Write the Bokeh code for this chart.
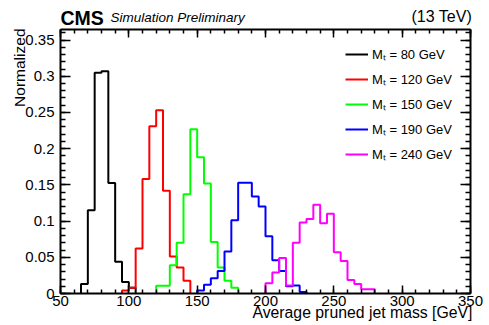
import numpy as np
from bokeh.plotting import figure
from bokeh.models import (Range1d, LinearAxis, FixedTicker, Label, Legend, LegendItem,
                          CustomLabelingPolicy)
from bokeh.embed import file_html
from bokeh.resources import INLINE

# ---- data (5 GeV bins) ----
bin_width = 5
series_names = ["M\u209c = 80 GeV", "M\u209c = 120 GeV", "M\u209c = 150 GeV",
                "M\u209c = 190 GeV", "M\u209c = 240 GeV"]
series_colors = ["#000000", "#ff0000", "#00ff00", "#0000ff", "#ff00ff"]
series_start = [65, 95, 120, 150, 200]

m80 = [0.013, 0.115, 0.305, 0.307, 0.1525, 0.044, 0.016, 0.008]
m120 = [0.004, 0.008, 0.062, 0.158, 0.231, 0.253, 0.142, 0.051, 0.036, 0.0175]
m150 = [0.0106, 0.0106, 0.039, 0.070, 0.137, 0.227, 0.188, 0.152, 0.071, 0.036,
        0.0175, 0.008]
m190 = [0.004, 0.012, 0.021, 0.031, 0.058, 0.101, 0.153, 0.153, 0.134, 0.120,
        0.079, 0.046, 0.031, 0.010, 0.011, 0.002]
m240 = [0.014, 0.029, 0.049, 0.011, 0.070, 0.098, 0.103, 0.1225, 0.097, 0.110,
        0.057, 0.045, 0.0185, 0.013, 0.006, 0.006]
series_values = [m80, m120, m150, m190, m240]

x_lo, x_hi = 50, 350
y_lo, y_hi = 0, 0.3646
x_ticks = [50, 100, 150, 200, 250, 300, 350]
y_ticks = [0, 0.05, 0.1, 0.15, 0.2, 0.25, 0.3, 0.35]
y_tick_labels = ["0", "0.05", "0.1", "0.15", "0.2", "0.25", "0.3", "0.35"]

FONT = "Liberation Sans"
W, H = 489, 325
# plot box in canvas pixels (left, right, top, bottom)
BL, BR, BT, BB = 60, 470, 29, 293

# the frame covers the whole canvas; axes are pinned at the box edges
sx = (x_hi - x_lo) / (BR - BL)
sy = (y_hi - y_lo) / (BB - BT)
x_range = Range1d(x_lo - BL * sx, x_hi + (W - BR) * sx)
y_range = Range1d(y_lo - (H - BB) * sy, y_hi + BT * sy)

p = figure(width=W, height=H, x_range=x_range, y_range=y_range,
           output_backend="svg", toolbar_location=None,
           x_axis_type=None, y_axis_type=None,
           min_border=0, min_border_left=0, min_border_right=0,
           min_border_top=0, min_border_bottom=0,
           background_fill_color="white", border_fill_color="white")
p.grid.visible = False
p.outline_line_color = None

x_minor = list(np.arange(50, 351, 10))
y_minor = [round(v, 2) for v in np.arange(0, 0.365, 0.01)]

hide_labels = CustomLabelingPolicy(code="for (const i of indices) indices.unset(i)")

def make_axis(ticks, minor, loc, bounds, major_in, minor_in, show_labels):
    ax = LinearAxis(ticker=FixedTicker(ticks=ticks, minor_ticks=minor),
                    fixed_location=loc, bounds=bounds)
    ax.axis_line_color = "black"
    ax.axis_line_width = 2
    ax.major_tick_in = major_in
    ax.major_tick_out = 0
    ax.minor_tick_in = minor_in
    ax.minor_tick_out = 0
    ax.major_tick_line_width = 1.5
    ax.minor_tick_line_width = 1.5
    ax.major_tick_line_color = "black"
    ax.minor_tick_line_color = "black"
    ax.major_label_text_font = FONT
    ax.major_label_text_color = "black"
    ax.major_label_text_font_size = "15px"
    if not show_labels:
        ax.major_label_policy = hide_labels
    return ax

xb = make_axis(x_ticks, x_minor, y_lo, (x_lo, x_hi), 8, 4, True)
xb.major_label_standoff = 2
p.add_layout(xb, "below")

yl = make_axis(y_ticks, y_minor, x_lo, (y_lo, y_hi), 10, 5, True)
yl.major_label_overrides = {t: s for t, s in zip(y_ticks, y_tick_labels)}
yl.major_label_standoff = 6
p.add_layout(yl, "left")

xt = make_axis(x_ticks, x_minor, y_hi, (x_lo, x_hi), 8, 4, False)
p.add_layout(xt, "above")
yr = make_axis(y_ticks, y_minor, x_hi, (y_lo, y_hi), 10, 5, False)
p.add_layout(yr, "right")

items = []
for name, color, start, vals in zip(series_names, series_colors, series_start, series_values):
    edges = [start + bin_width * i for i in range(len(vals) + 1)]
    xs = [start] + edges
    ys = [0] + list(vals) + [0]
    r = p.step(xs, ys, mode="after", line_color=color, line_width=2)
    items.append(LegendItem(label=name, renderers=[r]))

legend = Legend(items=items, location=(345, H - 164), padding=0, margin=0,
                glyph_width=23, glyph_height=20, label_height=20, spacing=5,
                label_standoff=4, border_line_color=None, background_fill_alpha=0,
                label_text_font=FONT, label_text_font_size="13px", label_text_color="black")
p.add_layout(legend)

def add_text(x, y, text, size, align="left", style="normal", angle=0):
    p.add_layout(Label(x=x, y=y, x_units="screen", y_units="screen", text=text,
                       text_font=FONT, text_font_style=style, text_font_size=size,
                       text_align=align, text_baseline="alphabetic", angle=angle,
                       text_color="black"))

add_text(BL, H - 17, "CMS", "19.5px", style="bold")
add_text(110, H - 17, "Simulation Preliminary", "13.5px", style="italic")
add_text(471.5, H - 16, "(13 TeV)", "16px", align="right")
add_text(472, H - 312, "Average pruned jet mass [GeV]", "15.8px", align="right")
add_text(19, H - 28, "Normalized", "15.5px", align="right", angle=np.pi / 2)

open("out.html", "w").write(file_html(p, INLINE))
